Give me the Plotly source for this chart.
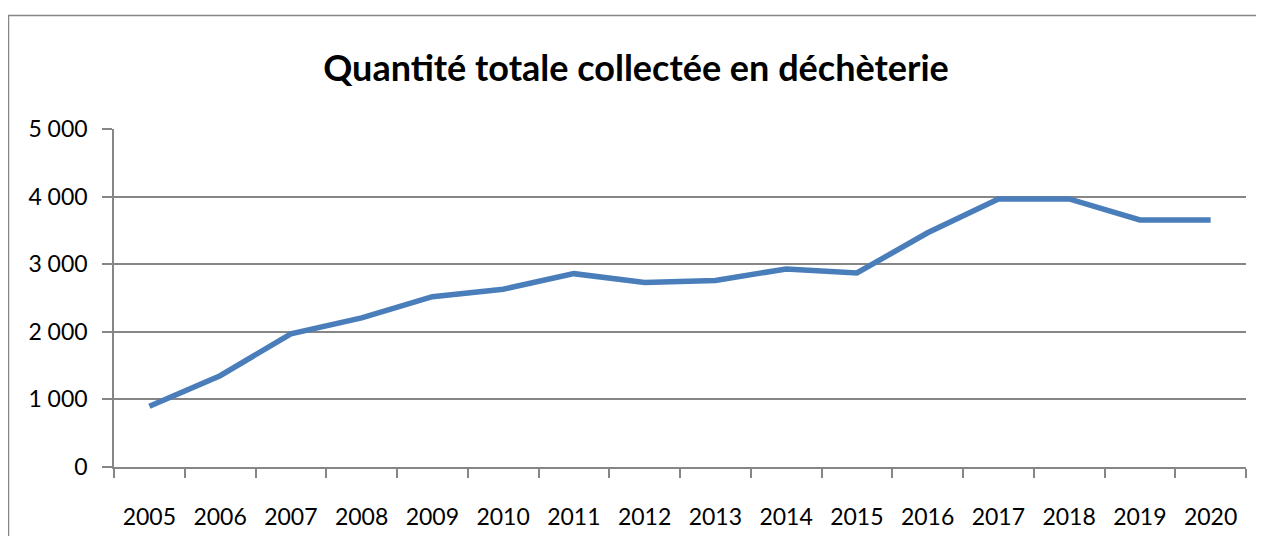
import plotly.graph_objects as go

years = ["2005", "2006", "2007", "2008", "2009", "2010", "2011", "2012",
         "2013", "2014", "2015", "2016", "2017", "2018", "2019", "2020"]
quantites = [900, 1350, 1970, 2205, 2520, 2630, 2860, 2730,
             2760, 2930, 2870, 3465, 3965, 3965, 3655, 3655]
y_ticks = [0, 1000, 2000, 3000, 4000, 5000]
title_text = "Quantité totale collectée en déchèterie"

fig = go.Figure()
fig.add_trace(go.Scatter(
    x=years, y=quantites, mode="lines",
    line=dict(color="#4a7ebb", width=5.5),
    hoverinfo="x+y",
))

# page body has an 8px margin: figure starts at (8, 8) in the window
OFF = 8
W, H = 1264 - OFF, 536 - OFF
L, R, T, B = 114 - OFF, 18, 129 - OFF, 69
pw, ph = W - L - R, H - T - B

def px_x(px):
    return (px - OFF - L) / pw

def px_y(py):
    return (H - B - (py - OFF)) / ph

fig.update_layout(
    width=W, height=H,
    margin=dict(l=L, r=R, t=T, b=B, autoexpand=False),
    paper_bgcolor="white", plot_bgcolor="white",
    separators=", ",
    showlegend=False,
    font=dict(family="Lato", color="#000000"),
    title=dict(text="<b>" + title_text + "</b>", x=0.5, xanchor="center",
               y=1 - (68 - OFF) / H, yanchor="middle",
               font=dict(family="Lato", size=36, color="#000000")),
    xaxis=dict(
        type="category", tickson="boundaries", ticks="outside", ticklen=9,
        tickcolor="#868686", tickwidth=1.5, automargin=False,
        showline=True, linecolor="#868686", linewidth=1.5,
        showgrid=False, tickfont=dict(size=23, family="Lato"),
        ticklabelstandoff=29, range=[-0.5, 15.5],
    ),
    yaxis=dict(
        range=[0, 5000], tickvals=y_ticks, tickformat=",d", automargin=False,
        ticks="outside", ticklen=10, tickcolor="#868686", tickwidth=1.5,
        showline=True, linecolor="#868686", linewidth=1.5,
        showgrid=True, gridcolor="#868686", gridwidth=1.5,
        zeroline=False, tickfont=dict(size=23, family="Lato"),
        ticklabelstandoff=10,
    ),
)

fig.add_shape(type="rect", xref="paper", yref="paper",
              x0=px_x(8.5), x1=px_x(1275), y0=px_y(545), y1=px_y(15.5),
              line=dict(color="#868686", width=1.5), fillcolor="rgba(0,0,0,0)",
              layer="below")

fig.write_html("out.html")
